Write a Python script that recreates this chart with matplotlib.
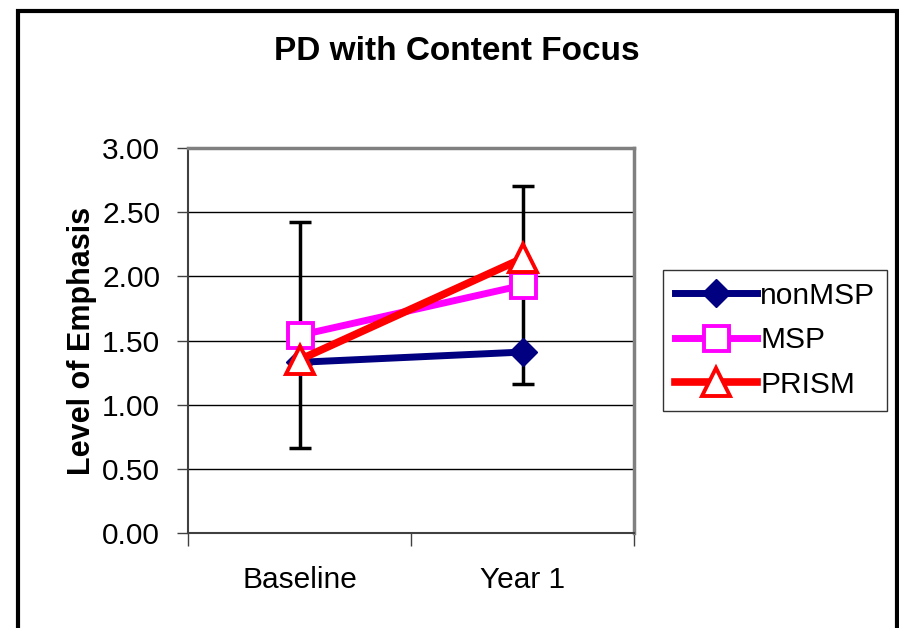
import matplotlib.pyplot as plt
from matplotlib.patches import Rectangle

# === Daten ===
categories = ["Baseline", "Year 1"]
non_msp = [1.33, 1.41]
msp = [1.54, 1.93]
prism = [1.35, 2.14]
msp_err = [0.88, 0.77]      # Fehlerbalken gehoeren zur MSP-Reihe
y_ticks = [0.0, 0.5, 1.0, 1.5, 2.0, 2.5, 3.0]

plt.rcParams['font.family'] = ['Liberation Sans', 'DejaVu Sans']

fig = plt.figure(figsize=(8.99, 6.28), dpi=100)
ax = fig.add_axes([188/899, 1 - 533/628, (634 - 188)/899, (533 - 148)/628])

x = [i + 0.5 for i in range(len(categories))]

# Fehlerbalken hinter den Linien
ax.errorbar(x, msp, yerr=msp_err, fmt='none', ecolor='black', elinewidth=2.5,
            capsize=8, capthick=2.5, zorder=2)

ax.plot(x, non_msp, color='#000080', lw=5, marker='D', ms=14,
        mfc='#000080', mec='#000080', label='nonMSP', zorder=3)
ax.plot(x, msp, color='#FF00FF', lw=5, marker='s', ms=18, mfc='white',
        mec='#FF00FF', mew=2.8, label='MSP', zorder=4)
ax.plot(x, prism, color='#FF0000', lw=5.5, marker='^', ms=20, mfc='white',
        mec='#FF0000', mew=2.8, label='PRISM', zorder=5)

# === Achsen ===
ax.set_xlim(0, len(categories))
ax.set_ylim(0, 3)
ax.set_yticks(y_ticks)
ax.set_yticklabels([f"{v:.2f}" for v in y_ticks], fontsize=21.5)
ax.yaxis.grid(True, color='black', lw=1)
ax.set_axisbelow(True)
ax.tick_params(axis='y', direction='out', length=8, width=1, color='#404040', pad=12)

ax.set_xticks(x)
ax.set_xticklabels(categories, fontsize=21.5)
ax.tick_params(axis='x', which='major', length=0, pad=24)
ax.set_xticks(range(len(categories) + 1), minor=True)
ax.tick_params(axis='x', which='minor', direction='out', length=9, width=1, color='#404040')

for side in ['top', 'right']:
    ax.spines[side].set_color('#808080')
    ax.spines[side].set_linewidth(2.5)
for side in ['left', 'bottom']:
    ax.spines[side].set_color('#404040')
    ax.spines[side].set_linewidth(1.5)

ax.set_ylabel("Level of Emphasis", fontsize=22, fontweight='bold', labelpad=4)
fig.text(0.508, 1 - 51/628, "PD with Content Focus", fontsize=24, fontweight='bold',
         ha='center', va='center')

# === Legende ===
leg = ax.legend(loc='upper left', bbox_to_anchor=(663/899, 1 - 270/628),
                bbox_transform=fig.transFigure, fontsize=21.5, frameon=True,
                fancybox=False, edgecolor='black', handlelength=2.75,
                handletextpad=0.1, borderpad=0.4, labelspacing=0.55,
                borderaxespad=0)
leg.get_frame().set_linewidth(1)

# Rahmen um das ganze Diagramm (unten abgeschnitten)
fig.patches.append(Rectangle((18/899, -0.1), (897 - 18)/899, 1.1 - 11/628,
                             transform=fig.transFigure, fill=False,
                             edgecolor='black', lw=3, clip_on=False))

fig.savefig("out.png", dpi=100)
